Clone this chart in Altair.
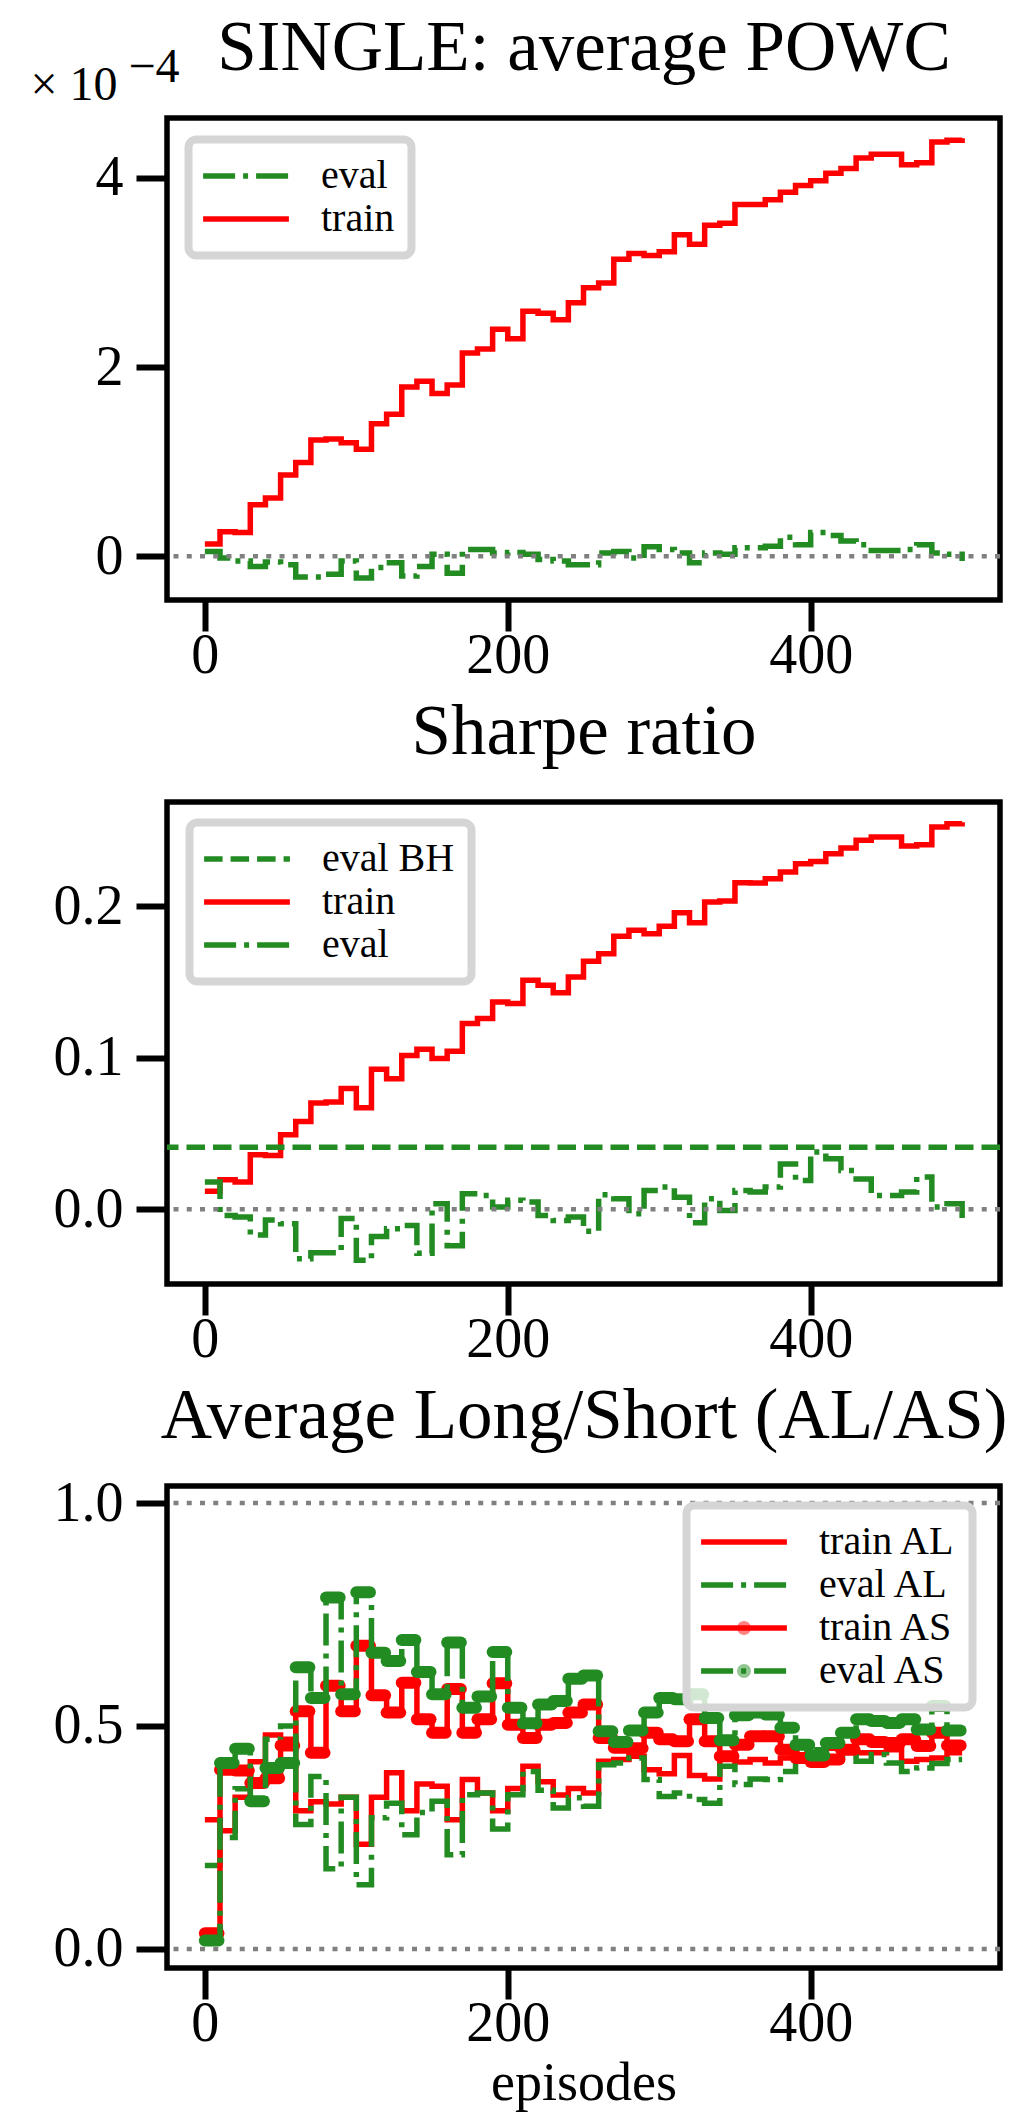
import altair as alt
import pandas as pd

FONT = "Liberation Serif"
RED = "#ff0000"
GREEN = "#228b22"
GREY = "#808080"

# ---------------- data ----------------
EPISODES = list(range(0, 501, 10))          # 51 step points, 0..500
X_TICKS = [0, 200, 400]

# panel 1: average POWC, in units of 1e-4
POWC_TRAIN = [0.13, 0.26, 0.25, 0.545, 0.615, 0.86, 0.99, 1.23, 1.24, 1.20,
              1.13, 1.40, 1.50, 1.79, 1.85, 1.72, 1.81, 2.15, 2.19, 2.40,
              2.30, 2.59, 2.57, 2.50, 2.68, 2.84, 2.89, 3.14, 3.20, 3.18,
              3.22, 3.40, 3.30, 3.50, 3.52, 3.72, 3.72, 3.77, 3.85, 3.92,
              3.97, 4.05, 4.10, 4.21, 4.25, 4.25, 4.14, 4.16, 4.38, 4.40, 4.42]
POWC_EVAL = [0.05, -0.02, -0.05, -0.11, -0.06, -0.09, -0.22, -0.22, -0.19, -0.05,
             -0.23, -0.12, -0.07, -0.21, -0.11, 0.02, -0.18, 0.07, 0.07, 0.035,
             0.04, 0.02, -0.035, -0.05, -0.09, -0.09, 0.035, 0.05, -0.02, 0.10,
             0.07, 0.035, -0.07, 0.035, 0.02, 0.09, 0.09, 0.105, 0.20, 0.12,
             0.25, 0.22, 0.16, 0.12, 0.06, 0.06, 0.07, 0.12, 0.035, 0.02, -0.05]
POWC_TICKS = [0, 2, 4]

# panel 2: Sharpe ratio
SHARPE_TRAIN = [0.0119, 0.0196, 0.018, 0.036, 0.0356, 0.0493, 0.058, 0.0702, 0.0708, 0.0797,
                0.067, 0.0924, 0.0862, 0.1016, 0.1056, 0.0995, 0.1043, 0.1226, 0.126, 0.1369,
                0.1358, 0.1512, 0.1479, 0.143, 0.1534, 0.1637, 0.1688, 0.1802, 0.1842, 0.182,
                0.1868, 0.1958, 0.1892, 0.2029, 0.2035, 0.2156, 0.2154, 0.2183, 0.2227, 0.2282,
                0.2297, 0.2348, 0.2385, 0.2436, 0.2458, 0.2458, 0.2398, 0.2407, 0.2524, 0.2546, 0.2555]
SHARPE_EVAL = [0.018, -0.004, -0.005, -0.017, -0.007, -0.0095, -0.0326, -0.0286, -0.0286, -0.006,
               -0.0337, -0.018, -0.0128, -0.0106, -0.029, 0.0037, -0.024, 0.0103, 0.0092, 0.0015,
               0.006, 0.0048, -0.004, -0.0073, -0.005, -0.0145, 0.0097, 0.007, -0.003, 0.0125,
               0.0147, 0.008, -0.0088, 0.007, -0.0007, 0.0125, 0.0114, 0.0147, 0.030, 0.019,
               0.0378, 0.0334, 0.0257, 0.020, 0.0092, 0.0092, 0.0114, 0.0213, 0.0015, 0.0037, -0.0095]
SHARPE_EVAL_BH = [0.041]
SHARPE_TICKS = [0.0, 0.1, 0.2]

# panel 3: average long / short
AL_TRAIN = [0.29, 0.265, 0.34, 0.42, 0.48, 0.47, 0.31, 0.33, 0.325, 0.34,
            0.235, 0.34, 0.395, 0.31, 0.37, 0.365, 0.29, 0.38, 0.35, 0.31,
            0.36, 0.41, 0.375, 0.345, 0.36, 0.35, 0.421, 0.425, 0.432, 0.402,
            0.393, 0.434, 0.389, 0.381, 0.428, 0.419, 0.425, 0.417, 0.428, 0.428,
            0.44, 0.45, 0.45, 0.44, 0.44, 0.447, 0.421, 0.425, 0.428, 0.44, 0.44]
AL_EVAL = [0.187, 0.25, 0.359, 0.387, 0.47, 0.50, 0.279, 0.387, 0.18, 0.34,
           0.144, 0.294, 0.327, 0.256, 0.306, 0.331, 0.211, 0.346, 0.35, 0.269,
           0.346, 0.398, 0.356, 0.316, 0.339, 0.32, 0.413, 0.417, 0.428, 0.38,
           0.342, 0.35, 0.335, 0.327, 0.41, 0.369, 0.381, 0.38, 0.398, 0.44,
           0.447, 0.455, 0.432, 0.421, 0.436, 0.417, 0.398, 0.406, 0.416, 0.425, 0.425]
AS_TRAIN = [0.035, 0.402, 0.40, 0.372, 0.383, 0.456, 0.533, 0.44, 0.59, 0.533,
            0.68, 0.569, 0.53, 0.597, 0.515, 0.485, 0.583, 0.485, 0.515, 0.596,
            0.503, 0.473, 0.503, 0.507, 0.53, 0.548, 0.473, 0.451, 0.45, 0.485,
            0.47, 0.466, 0.515, 0.466, 0.432, 0.458, 0.477, 0.477, 0.447, 0.428,
            0.419, 0.425, 0.447, 0.47, 0.464, 0.462, 0.47, 0.455, 0.485, 0.456, 0.456]
AS_EVAL = [0.019, 0.417, 0.449, 0.331, 0.406, 0.417, 0.632, 0.563, 0.788, 0.571,
           0.80, 0.664, 0.646, 0.693, 0.621, 0.571, 0.687, 0.541, 0.566, 0.666,
           0.541, 0.506, 0.548, 0.556, 0.606, 0.613, 0.488, 0.464, 0.49, 0.53,
           0.563, 0.56, 0.571, 0.518, 0.468, 0.524, 0.53, 0.526, 0.496, 0.458,
           0.434, 0.462, 0.485, 0.515, 0.511, 0.507, 0.515, 0.492, 0.545, 0.49, 0.49]
AS_TICKS = [0.0, 0.5, 1.0]

ZERO_LINE = [0.0]
BOUND_LINES = [0.0, 1.0]

TITLES = ["SINGLE: average POWC", "Sharpe ratio", "Average Long/Short (AL/AS)"]

# ---------------- styling ----------------
W, H = 833, 482
TITLE_GAP = 49
X_DOMAIN = [-25, 525]
LW = 5.5
SOLID = [1, 0]
DASHDOT = [32, 8, 5, 8]
DASHED = [18.5, 8]
DOTTED = [5, 8.25]

LINE_PATH = "M-2.6,0H2.6"
CIRCLE_PATH = "M0.42,0A0.42,0.42,0,1,1,-0.42,0A0.42,0.42,0,1,1,0.42,0Z"
EMPTY_PATH = "M0,0"


def series_df(values, name):
    return pd.DataFrame({"episode": EPISODES, "value": values, "series": name})


def block_df(values, name):
    return pd.DataFrame({"episode": EPISODES[:-1], "value": values[:-1], "series": name})


def legend_lines(lx, ly):
    return alt.Legend(title=None, orient="none", legendX=lx, legendY=ly,
                      symbolType=LINE_PATH, zindex=1)


def legend_dots(lx, ly):
    return alt.Legend(title=None, orient="none", legendX=lx, legendY=ly,
                      labelExpr="''", labelOpacity=0, strokeColor="transparent",
                      fillColor="transparent", symbolStrokeWidth=0, zindex=2)


def x_enc(axis):
    return alt.X("episode:Q", scale=alt.Scale(domain=X_DOMAIN, nice=False, zero=False), axis=axis)


def y_enc(domain, axis):
    return alt.Y("value:Q", scale=alt.Scale(domain=domain, nice=False, zero=False), axis=axis)


def x_axis(top_title=None, bottom_title=None):
    kw = dict(values=X_TICKS, labelPadding=-3, labelFlush=False, labelOverlap=False, titleLimit=1500)
    if top_title:
        kw.update(title=top_title, titleFontSize=71, titleX=W / 2, titleY=-(H + TITLE_GAP),
                  titleAlign="center", titleBaseline="alphabetic")
    elif bottom_title:
        kw.update(title=bottom_title, titleFontSize=54, titleX=W / 2, titleY=131,
                  titleAlign="center", titleBaseline="alphabetic")
    else:
        kw.update(title=None)
    return alt.Axis(**kw)


def y_axis(values, fmt, title=None, big=False):
    kw = dict(values=values, format=fmt, labelPadding=13, labelOverlap=False, titleLimit=1500)
    if title and big:
        kw.update(title=title, titleAngle=0, titleAlign="center", titleBaseline="alphabetic",
                  titleX=W / 2, titleY=-TITLE_GAP, titleFontSize=71)
    elif title:
        kw.update(title=title, titleAngle=0, titleAlign="left", titleBaseline="alphabetic",
                  titleX=-137, titleY=-19, titleFontSize=48)
    else:
        kw.update(title=None)
    return alt.Axis(**kw)


def build_layers(domain, specs, series_domain, colors, dashes, legend, xaxis, yaxis,
                 dot_legend=None, dot_series=()):
    cscale = alt.Scale(domain=series_domain, range=colors)
    dscale = alt.Scale(domain=series_domain, range=dashes)
    dot_domain = ["dot " + s for s in series_domain]
    layers = []
    for kind, df in specs:
        if kind == "line":
            layers.append(
                alt.Chart(df).mark_line(interpolate="step-after", strokeWidth=LW, clip=True).encode(
                    x=x_enc(xaxis), y=y_enc(domain, yaxis),
                    color=alt.Color("series:N", scale=cscale, legend=legend),
                    strokeDash=alt.StrokeDash("series:N", scale=dscale, legend=legend),
                )
            )
        elif kind == "rule":
            layers.append(
                alt.Chart(df).mark_rule(strokeWidth=LW).encode(
                    y=y_enc(domain, yaxis),
                    color=alt.Color("series:N", scale=cscale, legend=legend),
                    strokeDash=alt.StrokeDash("series:N", scale=dscale, legend=legend),
                )
            )
        elif kind == "pill":
            layers.append(
                alt.Chart(df).transform_calculate(episode_end="datum.episode + 9")
                .mark_rule(strokeWidth=12, strokeCap="round", clip=True).encode(
                    x=x_enc(xaxis), x2="episode_end:Q", y=y_enc(domain, yaxis),
                    color=alt.Color("series:N", scale=cscale, legend=legend),
                )
            )
            if dot_legend is not None:
                cmap = dict(zip(series_domain, colors))
                fill_range = [cmap[s] if s in dot_series else "transparent" for s in series_domain]
                shape_range = [CIRCLE_PATH if s in dot_series else EMPTY_PATH for s in series_domain]
                layers.append(
                    alt.Chart(df).transform_calculate(marker="'dot ' + datum.series")
                    .mark_point(size=0, filled=True, clip=True).encode(
                        x=x_enc(xaxis), y=y_enc(domain, yaxis),
                        fill=alt.Fill("marker:N", scale=alt.Scale(domain=dot_domain, range=fill_range),
                                      legend=dot_legend),
                        shape=alt.Shape("marker:N", scale=alt.Scale(domain=dot_domain, range=shape_range),
                                        legend=dot_legend),
                    )
                )
    return layers


def dotted_layer(values, domain, yaxis):
    return alt.Chart(pd.DataFrame({"value": values})).mark_rule(
        color=GREY, strokeWidth=4.5, strokeDash=DOTTED).encode(y=y_enc(domain, yaxis))


# ---------- panel 1 ----------
D1 = [-0.463, 4.634]
xa1 = x_axis(top_title=TITLES[0])
ya1 = y_axis(POWC_TICKS, "d", "\u00d7 10")
inner1 = alt.layer(*build_layers(
    D1,
    [("line", series_df(POWC_TRAIN, "train")), ("line", series_df(POWC_EVAL, "eval"))],
    ["eval", "train"], [GREEN, RED], [DASHDOT, SOLID],
    legend_lines(21.5, 21.5), xa1, ya1,
))
exp_axis = alt.Axis(orient="right", values=POWC_TICKS, labels=False, ticks=False, domain=False,
                    title="\u22124", titleAngle=0, titleAlign="left", titleBaseline="alphabetic",
                    titleX=-39 - W, titleY=-37, titleFontSize=48)
p1 = alt.layer(inner1, dotted_layer(ZERO_LINE, D1, exp_axis)).resolve_axis(
    y="independent").properties(width=W, height=H)

# ---------- panel 2 ----------
D2 = [-0.0493, 0.2689]
xa2 = x_axis(top_title=TITLES[1])
ya2 = y_axis(SHARPE_TICKS, ".1f")
p2 = alt.layer(*build_layers(
    D2,
    [("line", series_df(SHARPE_TRAIN, "train")),
     ("line", series_df(SHARPE_EVAL, "eval")),
     ("rule", pd.DataFrame({"value": SHARPE_EVAL_BH, "series": "eval BH"}))],
    ["eval BH", "train", "eval"], [GREEN, RED, GREEN], [DASHED, SOLID, DASHDOT],
    legend_lines(22.5, 20.5), xa2, ya2,
), dotted_layer(ZERO_LINE, D2, ya2)).properties(width=W, height=H)

# ---------- panel 3 ----------
D3 = [-0.0427, 1.0382]
xa3 = x_axis(bottom_title="episodes")
ya3 = y_axis(AS_TICKS, ".1f", TITLES[2], big=True)
p3 = alt.layer(*build_layers(
    D3,
    [("line", series_df(AL_TRAIN, "train AL")),
     ("line", series_df(AL_EVAL, "eval AL")),
     ("line", series_df(AS_TRAIN, "train AS")),
     ("pill", block_df(AS_TRAIN, "train AS")),
     ("line", series_df(AS_EVAL, "eval AS")),
     ("pill", block_df(AS_EVAL, "eval AS"))],
    ["train AL", "eval AL", "train AS", "eval AS"], [RED, GREEN, RED, GREEN],
    [SOLID, DASHDOT, SOLID, DASHDOT],
    legend_lines(519.5, 19.5), xa3, ya3,
    dot_legend=legend_dots(519.5, 19.5), dot_series=("train AS", "eval AS"),
), dotted_layer(BOUND_LINES, D3, ya3)).properties(width=W, height=H)

chart = alt.vconcat(p1, p2, p3, spacing=202, bounds="flush").resolve_scale(
    x="independent", y="independent", color="independent", strokeDash="independent",
    fill="independent", shape="independent",
).properties(
    padding={"left": 19, "top": 1, "right": 0, "bottom": 0},
    background="white",
).configure_view(
    stroke="black", strokeWidth=5.5
).configure_axis(
    domain=False, grid=False, tickColor="black", tickWidth=6, tickSize=31,
    labelFont=FONT, labelFontSize=56, labelColor="black",
    titleFont=FONT, titleColor="black", titleFontWeight="normal",
).configure_legend(
    labelFont=FONT, labelFontSize=40, labelColor="black", labelLimit=0,
    symbolSize=1089, symbolOffset=21, labelOffset=55, rowPadding=3,
    symbolStrokeWidth=LW, padding=16.5, cornerRadius=8,
    strokeColor="#d5d5d5", strokeWidth=8, fillColor="rgba(255,255,255,0.8)",
)

chart.save("out.html", embed_options={"renderer": "svg", "actions": False})
